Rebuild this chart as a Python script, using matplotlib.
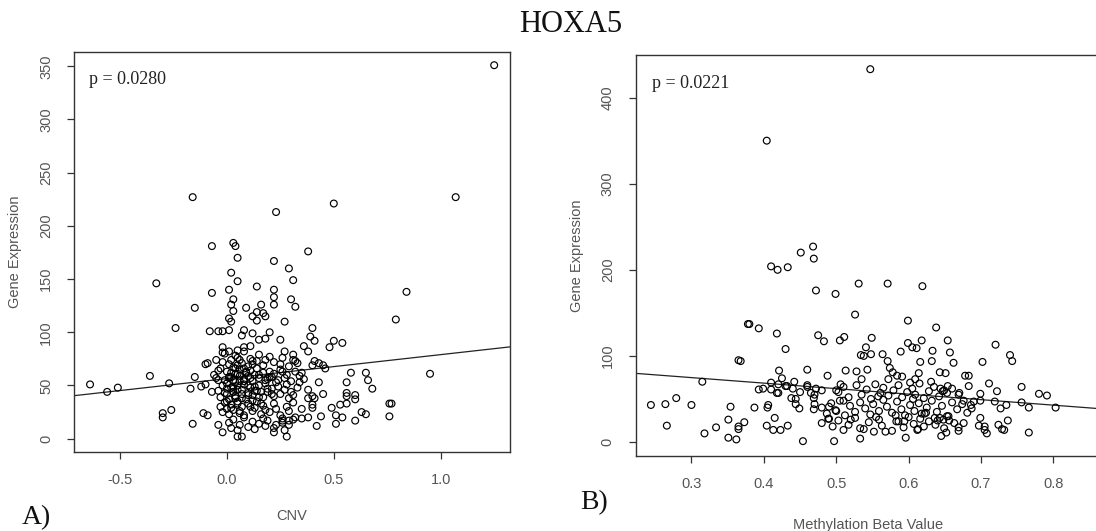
import matplotlib
matplotlib.use("Agg")
import matplotlib.pyplot as plt

# panel A: CNV vs gene expression
cnv_x = [1.25, -0.16, 1.07, 0.50, 0.23, 0.03, 0.04, -0.07, 0.38, 0.05, 0.22, 0.29, 0.02, 0.31, 0.05,
         -0.33, 0.14, 0.01, 0.22, -0.07, 0.84, 0.22, 0.03, 0.30, 0.02, 0.16, 0.22, 0.32, -0.15, 0.09,
         0.03, 0.14, 0.17, 0.12, 0.18, 0.01, 0.02, 0.14, 0.27, 0.79, -0.24, 0.40, -0.08, -0.04, -0.02,
         0.01, 0.08, 0.12, 0.20, 0.07, 0.39, 0.41, 0.25, 0.18, 0.15, 0.50, 0.54, 0.36, 0.11, 0.08,
         0.48, -0.02, 0.05, 0.38, 0.27, 0.31, 0.01, -0.02,
         -0.05, 0.02, 0.06, 0.12, 0.18, 0.32, 0.41, 0.43, 0.40, -0.10, -0.09, 0.45, 0.46, 0.58, 0.65,
         0.95, -0.04, -0.36, -0.15, 0.56, 0.66, -0.27, -0.64, -0.05, -0.04, 0.43, 0.34, -0.51, -0.17,
         -0.12, -0.10, -0.56, -0.07, 0.38, 0.68, 0.56, 0.60, 0.56, 0.45, 0.40, 0.41, 0.38, 0.60, 0.77,
         0.76, 0.56, 0.53, 0.40, 0.40, 0.49, 0.35, 0.63, 0.65, 0.76, 0.51, 0.54, 0.44, 0.60, 0.51, 0.42,
         -0.26, -0.30, -0.30, -0.11, -0.09, -0.16, -0.04, -0.02, 0.05, 0.07, 0.28, 0.22, 0.23, 0.38,
         0.35, 0.32, 0.29, 0.26, 0.26,
         -0.02, -0.01, 0.01, 0.04, 0.05, 0.05, 0.07, 0.08, 0.10, 0.11, 0.12, 0.14, 0.15, 0.17, 0.20,
         0.22, 0.25, 0.26, 0.29, 0.31, 0.33,
         -0.06, -0.03, -0.01, 0.00, 0.02, 0.03, 0.04, 0.05, 0.06, 0.08, 0.09, 0.10, 0.11, 0.12, 0.13,
         0.14, 0.15, 0.17, 0.18, 0.20, 0.21, 0.22, 0.23, 0.25, 0.27, 0.28, 0.30, 0.32, 0.34, 0.35, 0.36,
         -0.04, -0.03, -0.02, 0.00, 0.00, 0.01, 0.03, 0.03, 0.04, 0.05, 0.07, 0.08, 0.10, 0.11, 0.12,
         0.14, 0.15, 0.17, 0.19, 0.21, 0.22, 0.24, 0.25, 0.27, 0.29, 0.30, 0.31, 0.33,
         -0.03, -0.02, -0.01, 0.00, 0.01, 0.02, 0.03, 0.05, 0.06, 0.07, 0.08, 0.10, 0.12, 0.13, 0.14,
         0.16, 0.17, 0.18, 0.20, 0.22, 0.23, 0.25, 0.28, 0.29, 0.31,
         0.01, 0.02, 0.03, 0.05, 0.06, 0.08, 0.10, 0.12, 0.13, 0.15, 0.17, 0.18, 0.19, 0.22, 0.26,
         0.27, 0.29, 0.31,
         0.00, 0.01, 0.02, 0.02, 0.03, 0.03, 0.04, 0.04, 0.05, 0.06, 0.07, 0.08, 0.09, 0.10, 0.11,
         0.12, 0.13, 0.15, 0.16, 0.18, 0.19, 0.20, 0.24, 0.26, 0.28,
         -0.01, 0.00, 0.01, 0.02, 0.03, 0.04, 0.04, 0.05, 0.06, 0.06, 0.07, 0.08, 0.09, 0.10, 0.11,
         0.13, 0.15, 0.16, 0.19, 0.21]
cnv_y = [351, 227, 227, 221, 213, 184, 181, 181, 176, 170, 167, 160, 156, 149, 148,
         146, 143, 140, 140, 137, 138, 133, 131, 131, 126, 126, 126, 124, 123, 123,
         120, 119, 118, 115, 115, 113, 110, 111, 110, 112, 104, 104, 101, 101, 101,
         102, 102, 99, 100, 97, 96, 92, 93, 94, 93, 92, 90, 87, 87, 86,
         86, 86, 83, 82, 82, 79, 82, 81,
         74, 74, 74, 73, 74, 73, 73, 71, 69, 70, 71, 69, 66, 62, 62,
         61, 64, 59, 58, 53, 55, 52, 51, 57, 55, 53, 53, 48, 47,
         49, 51, 44, 44, 46, 47, 43, 41, 40, 42, 40, 38, 38, 37, 33,
         33, 33, 32, 32, 29, 29, 28, 25, 23, 21, 22, 20, 21, 17, 14, 12,
         27, 24, 20, 24, 22, 14, 13, 6, 2, 2, 2, 6, 13, 20,
         19, 20, 17, 17, 19,
         72, 80, 70, 78, 69, 76, 71, 82, 68, 75, 70, 73, 79, 69, 77,
         72, 70, 76, 68, 74, 71,
         60, 66, 55, 63, 58, 67, 53, 61, 65, 56, 62, 59, 64, 54, 60,
         66, 57, 62, 55, 63, 58, 61, 53, 65, 57, 60, 54, 63, 59, 62, 56,
         45, 39, 50, 42, 47, 37, 44, 49, 40, 46, 38, 51, 43, 48, 41,
         45, 50, 39, 44, 47, 40, 49, 42, 46, 38, 44, 41, 48,
         30, 25, 34, 28, 23, 32, 27, 35, 24, 30, 22, 33, 26, 29, 35,
         23, 31, 27, 25, 33, 28, 22, 30, 26, 34,
         15, 10, 18, 8, 13, 20, 11, 16, 9, 14, 19, 12, 17, 10, 15,
         8, 13, 18,
         52, 57, 48, 62, 44, 55, 38, 66, 50, 59, 46, 54, 63, 41, 57,
         36, 49, 60, 44, 52, 47, 58, 55, 63, 51,
         43, 35, 58, 29, 47, 40, 61, 33, 54, 26, 42, 66, 37, 50, 30,
         45, 39, 33, 56, 42]
cnv_fit = (56.5, 22.5)  # intercept, slope
cnv_p = "p = 0.0280"

# panel B: methylation beta value vs gene expression
meth_x = [0.547, 0.404, 0.468, 0.451, 0.469, 0.410, 0.419, 0.433, 0.531, 0.571, 0.619, 0.472, 0.499,
          0.526, 0.599, 0.378, 0.380, 0.393, 0.638, 0.418, 0.475, 0.483, 0.505, 0.511, 0.549, 0.618,
          0.654, 0.720, 0.599, 0.605, 0.611, 0.541, 0.430, 0.633, 0.589, 0.564, 0.657, 0.534, 0.538,
          0.548, 0.740, 0.365, 0.368, 0.571, 0.616, 0.632, 0.702, 0.743, 0.662, 0.460, 0.543, 0.421,
          0.513, 0.528, 0.574, 0.643, 0.651, 0.614, 0.578, 0.488, 0.584, 0.591, 0.678, 0.683, 0.315,
          0.425, 0.442, 0.535, 0.602, 0.631, 0.711, 0.609, 0.572, 0.410, 0.420, 0.506, 0.460, 0.432,
          0.756, 0.393, 0.399, 0.472, 0.644, 0.654, 0.670, 0.683, 0.722, 0.780, 0.791,
          0.244, 0.264, 0.279, 0.300, 0.266, 0.334, 0.318, 0.351, 0.354, 0.351, 0.362, 0.365, 0.365,
          0.373, 0.387, 0.404, 0.406, 0.405, 0.415, 0.413, 0.423, 0.433, 0.418, 0.438, 0.444, 0.444,
          0.449, 0.454, 0.469, 0.465, 0.469, 0.497, 0.533, 0.596, 0.645, 0.652, 0.708, 0.766, 0.766,
          0.756, 0.803, 0.737, 0.724, 0.729, 0.732, 0.735, 0.727, 0.719, 0.699, 0.699, 0.699, 0.705,
          0.705, 0.697, 0.669, 0.676, 0.687, 0.686, 0.690, 0.676,
          0.503, 0.510, 0.517, 0.528, 0.535, 0.542, 0.548, 0.554, 0.561, 0.565, 0.572, 0.579, 0.586,
          0.591, 0.598, 0.605, 0.609, 0.615, 0.621, 0.628, 0.635, 0.642, 0.649, 0.653, 0.660, 0.669,
          0.480, 0.487, 0.493, 0.499, 0.505, 0.512, 0.519, 0.526, 0.533, 0.540, 0.547, 0.551, 0.559,
          0.565, 0.570, 0.577, 0.584, 0.590, 0.595, 0.602, 0.608, 0.614, 0.618, 0.625, 0.632, 0.639,
          0.646, 0.653, 0.660, 0.667, 0.674, 0.681,
          0.480, 0.489, 0.495, 0.503, 0.510, 0.517, 0.526, 0.533, 0.538, 0.545, 0.552, 0.559, 0.563,
          0.577, 0.586, 0.593, 0.600, 0.607, 0.613, 0.616, 0.621, 0.628, 0.637, 0.643, 0.649, 0.656,
          0.663, 0.669,
          0.44, 0.45, 0.46, 0.47, 0.48, 0.49, 0.49, 0.50, 0.50, 0.51, 0.52, 0.47, 0.43, 0.42, 0.41,
          0.555, 0.568, 0.582, 0.594, 0.606, 0.622, 0.636, 0.648, 0.655, 0.647, 0.612, 0.583, 0.558,
          0.624, 0.640]
meth_y = [433, 350, 227, 220, 213, 204, 200, 203, 184, 184, 181, 176, 172,
          148, 141, 137, 137, 132, 133, 126, 124, 117, 118, 122, 121, 118,
          118, 113, 115, 110, 109, 110, 108, 106, 105, 102, 104, 101, 100,
          102, 101, 95, 94, 94, 93, 94, 93, 94, 92, 84, 84, 83,
          83, 82, 86, 81, 80, 80, 81, 77, 77, 76, 77, 77, 70,
          74, 70, 73, 69, 70, 68, 73, 73, 69, 67, 67, 64, 65,
          64, 61, 62, 62, 62, 65, 57, 65, 59, 56, 54,
          43, 44, 51, 43, 19, 17, 10, 26, 41, 5, 3, 18, 15,
          23, 40, 19, 43, 40, 28, 14, 14, 19, 57, 51, 50, 44,
          39, 1, 38, 57, 51, 1, 4, 5, 7, 11, 10, 11, 40,
          46, 40, 25, 20, 15, 14, 43, 39, 47, 28, 56, 48, 18,
          14, 19, 17, 22, 39, 43, 47, 48,
          58, 64, 52, 66, 55, 61, 50, 67, 57, 63, 54, 60, 66,
          52, 58, 62, 55, 68, 51, 59, 64, 53, 60, 57, 62, 55,
          40, 33, 45, 37, 48, 31, 42, 35, 46, 39, 32, 44, 36,
          49, 41, 34, 47, 38, 31, 43, 36, 45, 33, 40, 48, 35,
          42, 30, 46, 38, 44, 34,
          22, 27, 18, 25, 14, 20, 28, 16, 15, 23, 12, 26, 19,
          13, 24, 17, 29, 21, 15, 27, 18, 24, 20, 28, 16, 25,
          22, 13,
          62, 58, 66, 55, 60, 41, 27, 36, 60, 48, 26, 44, 65, 57, 61,
          29, 12, 31, 24, 50, 33, 28, 26, 30, 59, 14, 24, 53,
          34, 25]
meth_fit = (94.0, -64.0)
meth_p = "p = 0.0221"

gene = "HOXA5"

W, H = 1096, 531
fig = plt.figure(figsize=(W / 100, H / 100), dpi=100)

serif = ["Liberation Serif", "DejaVu Serif"]
sans = ["Liberation Sans", "DejaVu Sans"]


def px_axes(left, top, right, bottom):
    return fig.add_axes([left / W, 1 - bottom / H, (right - left) / W, (bottom - top) / H])


def style(ax, xlim, ylim, xticks, xlabels, yticks):
    ax.set_xlim(*xlim)
    ax.set_ylim(*ylim)
    ax.set_xticks(xticks)
    ax.set_xticklabels(xlabels)
    ax.set_yticks(yticks)
    ax.set_yticklabels([str(v) for v in yticks], rotation=90, va="center")
    for s in ax.spines.values():
        s.set_color("#333333")
        s.set_linewidth(1.0)
    ax.tick_params(direction="out", length=5, width=0.9, color="#333333",
                   labelcolor="#555555", labelsize=10.5, pad=10)
    for lab in ax.get_xticklabels() + ax.get_yticklabels():
        lab.set_family(sans)


def panel(ax, xs, ys, fit, ptext):
    ax.scatter(xs, ys, s=24, facecolors="none", edgecolors="black", linewidths=0.85, zorder=3)
    ax.axline((0, fit[0]), slope=fit[1], color="#222222", linewidth=0.9, zorder=2)
    ax.text(0.035, 0.93, ptext, transform=ax.transAxes, family=serif, fontsize=13,
            va="center", ha="left", color="#222222")
    ax.set_ylabel("Gene Expression", family=sans, fontsize=10.5, color="#555555", labelpad=12)


axA = px_axes(74, 52, 510, 452)
panel(axA, cnv_x, cnv_y, cnv_fit, cnv_p)
style(axA, (-0.715, 1.324), (-12.5, 363.4), [-0.5, 0.0, 0.5, 1.0],
      ["-0.5", "0.0", "0.5", "1.0"], [0, 50, 100, 150, 200, 250, 300, 350])
axA.set_xlabel("CNV", family=sans, fontsize=10.5, color="#555555", labelpad=16)

axB = px_axes(635.7, 55, 1100.5, 455.7)
panel(axB, meth_x, meth_y, meth_fit, meth_p)
style(axB, (0.223, 0.865), (-15.9, 449.5), [0.3, 0.4, 0.5, 0.6, 0.7, 0.8],
      ["0.3", "0.4", "0.5", "0.6", "0.7", "0.8"], [0, 100, 200, 300, 400])
axB.set_xlabel("Methylation Beta Value", family=sans, fontsize=10.5, color="#555555", labelpad=20)

fig.text(571 / W, 1 - 25 / H, gene, family=serif, fontsize=22, ha="center", va="center", color="#111111")
fig.text(22 / W, 1 - 518 / H, "A)", family=serif, fontsize=20, ha="left", va="center", color="#111111")
fig.text(580 / W, 1 - 503 / H, "B)", family=serif, fontsize=20, ha="left", va="center", color="#111111")

fig.savefig("out.png", dpi=100)
